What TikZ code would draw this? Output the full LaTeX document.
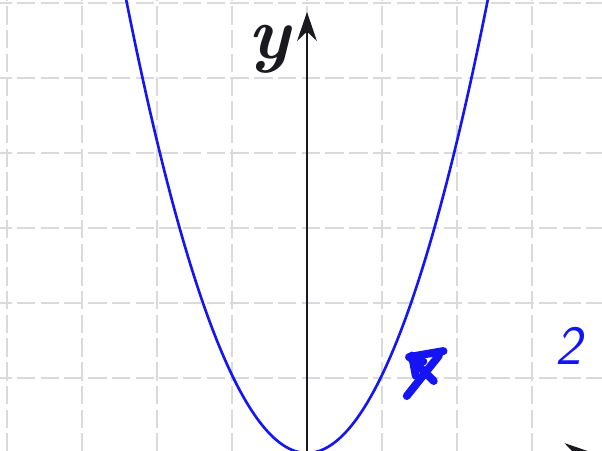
\documentclass[tikz,border=0pt]{standalone}
\usepackage{xcolor}
\usepackage{tikz}
\usetikzlibrary{arrows.meta}
\definecolor{mygrid}{RGB}{218,218,220}
\definecolor{myblue}{RGB}{20,20,245}
\definecolor{mydark}{RGB}{25,25,30}
\tikzset{
  gridline/.style={color=mygrid, line width=0.8pt, dash pattern=on 7pt off 2pt},
  curve/.style={color=myblue, line width=1pt},
  scribble/.style={color=myblue, line width=3pt, line cap=round, line join=round},
  axisline/.style={-{Stealth[length=11pt,width=7.5pt]}, line width=0.8pt, color=mydark},
  numlabel/.style={color=myblue, font=\sffamily\itshape\fontsize{21}{21}\selectfont},
  axlabel/.style={color=mydark, font=\bfseries\itshape\fontsize{28}{28}\selectfont}
}

\begin{document}
\begin{tikzpicture}
  \useasboundingbox (-4.093,0.04) rectangle (3.933,6.04);
  \clip (-4.093,0.04) rectangle (3.933,6.04);

  % Grid
  \foreach \gx in {-4,...,3} {
    \draw[gridline] (\gx,-0.3) -- (\gx,6.5);
  }
  \foreach \gy in {1,...,6} {
    \draw[gridline] (-4.5,\gy) -- (4.5,\gy);
  }

  % Axes
  \coordinate (O) at (0,0);
  \coordinate (ybot) at (0,-0.3);
  \coordinate (ytip) at (0,5.88);
  \coordinate (xleft) at (-4.5,0);
  \coordinate (xtip) at (3.82,0);
  \draw[axisline] (xleft) -- (xtip);
  \draw[axisline] (ybot) -- (ytip);
  \node[axlabel] (ylab) at (-0.5,5.38) {y};

  % Parabola
  \draw[curve] plot[domain=-2.6:2.6, samples=120] (\x,{1.04*\x*\x});

  % Mark near the curve
  \draw[scribble] (1.36,1.28) -- (1.82,1.36);
  \draw[scribble] (1.37,1.28) -- (1.69,0.96);
  \draw[scribble] (1.33,0.76) -- (1.76,1.30);
  \draw[scribble] (1.40,1.30) -- (1.45,1.03);
  \draw[scribble] (1.45,1.25) -- (1.55,1.22);

  % Number label
  \node[numlabel] (two) at (3.48,1.43) {2};
\end{tikzpicture}
\end{document}
